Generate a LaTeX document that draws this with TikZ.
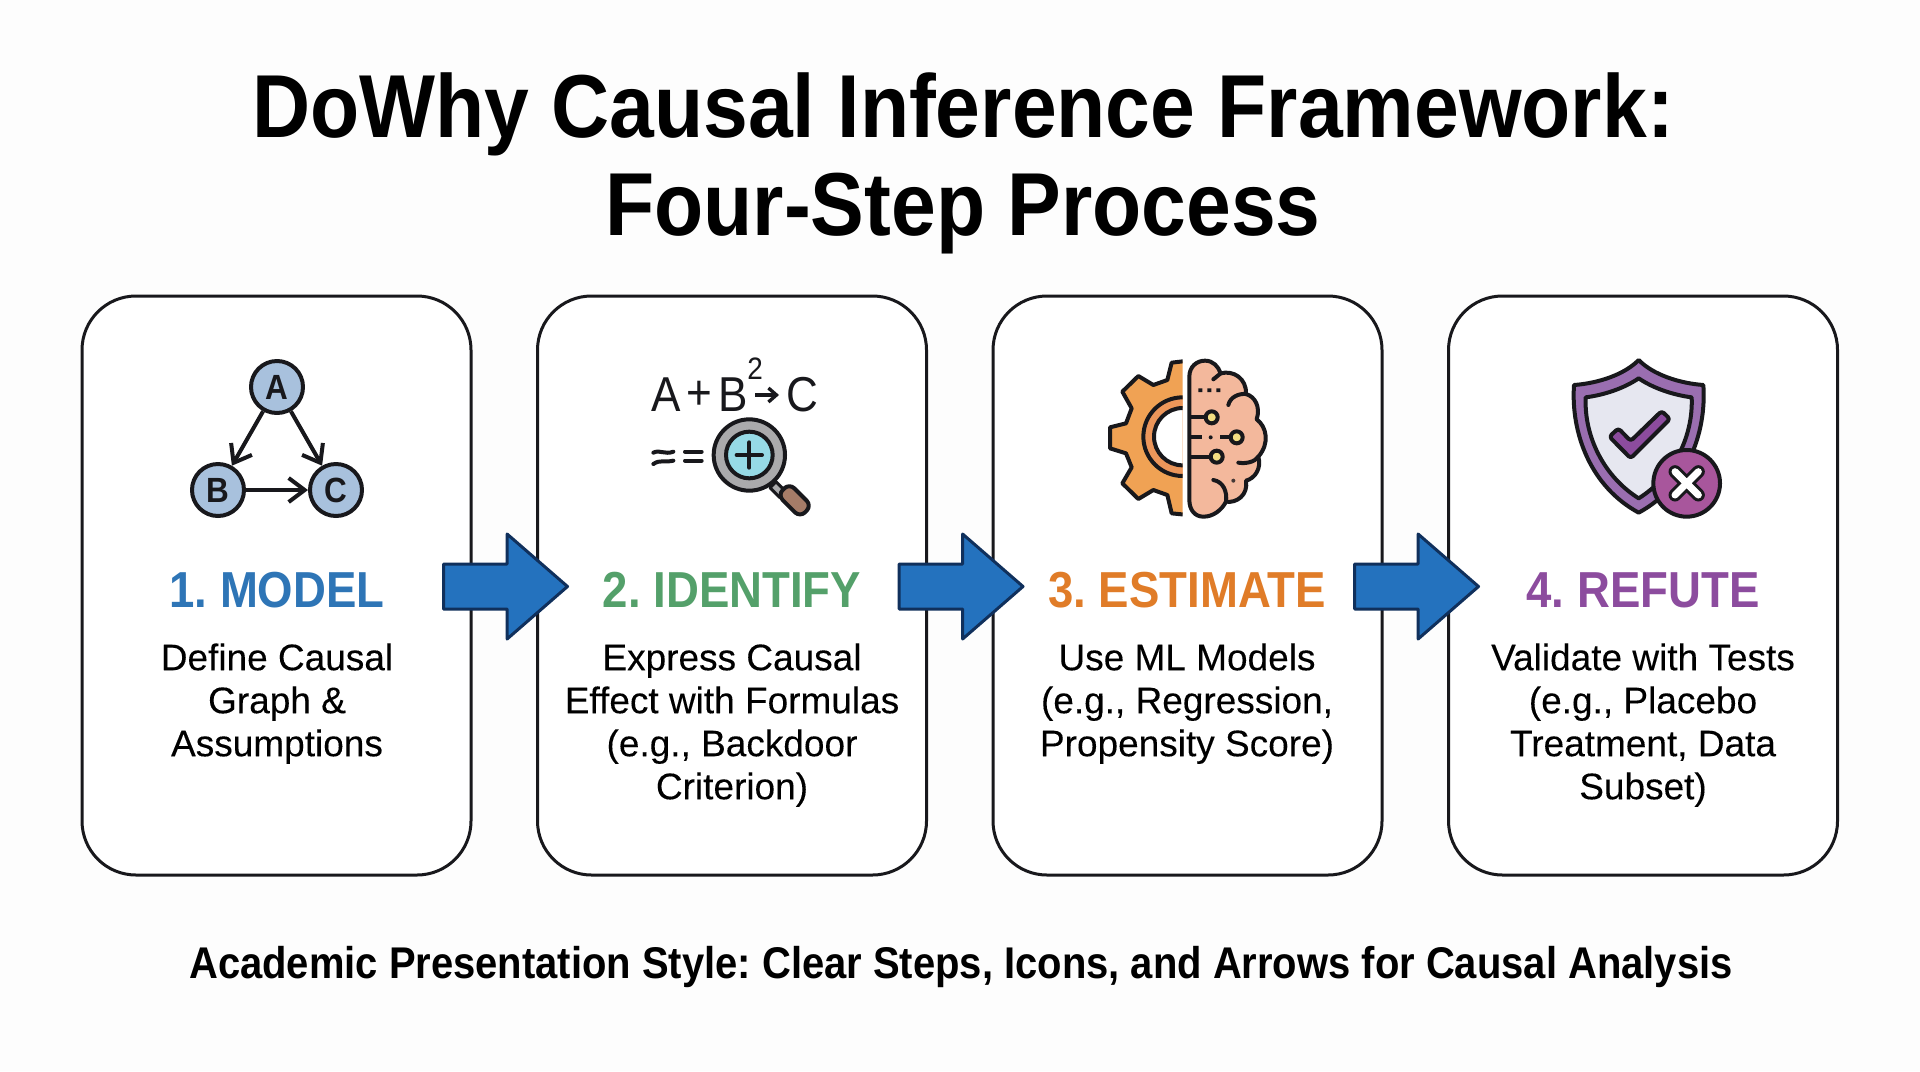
\documentclass[tikz,border=0pt]{standalone}
\usepackage{fontspec}
\setmainfont{Liberation Sans}
\newfontfamily\narrowfont[FakeStretch=0.9,BoldFont={Liberation Sans Bold}]{Liberation Sans}
\newfontfamily\bodyfont[FakeBold=0.15]{Liberation Sans}
\usetikzlibrary{arrows.meta,shapes.arrows,calc}
\definecolor{line_dark}{RGB}{24,24,28}
\definecolor{page_white}{RGB}{253,253,253}
\definecolor{edge_blue}{RGB}{16,48,92}
\definecolor{node_blue}{RGB}{36,114,190}
\definecolor{graph_blue}{RGB}{168,193,221}
\definecolor{head_blue}{RGB}{46,117,182}
\definecolor{head_green}{RGB}{84,160,106}
\definecolor{head_orange}{RGB}{224,124,40}
\definecolor{head_purple}{RGB}{140,76,158}
\definecolor{lens_blue}{RGB}{150,218,230}
\definecolor{ring_gray}{RGB}{170,170,172}
\definecolor{grip_brown}{RGB}{166,124,104}
\definecolor{gear_orange}{RGB}{240,162,84}
\definecolor{gear_inner}{RGB}{236,150,90}
\definecolor{brain_pink}{RGB}{243,184,156}
\definecolor{spark_yellow}{RGB}{243,222,130}
\definecolor{shield_purple}{RGB}{154,110,176}
\definecolor{shield_gray}{RGB}{230,231,240}
\definecolor{cross_purple}{RGB}{168,86,156}

\begin{document}
\frenchspacing
\begin{tikzpicture}[x=0.5pt,y=-0.5pt,line join=round]
    \tikzstyle{box}=[draw=line_dark, line width=1.5pt, rounded corners=27pt, minimum width=194.5pt, minimum height=289.5pt, fill=white]
    \tikzstyle{flow}=[draw=edge_blue, line width=1.5pt, fill=node_blue, single arrow, single arrow head extend=15pt, single arrow tip angle=82, text height=21pt, text depth=0pt, minimum height=62pt, inner sep=0pt, outer sep=0pt, anchor=tail]
    \tikzstyle{title}=[text=black, inner sep=0pt, align=center, font=\narrowfont\bfseries\fontsize{44.7}{49}\selectfont]
    \tikzstyle{head}=[inner sep=0pt, font=\narrowfont\bfseries\fontsize{25.3}{30}\selectfont]
    \tikzstyle{txt}=[text=black, inner sep=0pt, align=center, anchor=north, font=\bodyfont\fontsize{18.5}{21.5}\selectfont]
    \tikzstyle{vert}=[draw=line_dark, line width=2pt, circle, minimum size=26pt, inner sep=0pt, fill=graph_blue, text=line_dark, font=\narrowfont\bfseries\fontsize{17.5}{17.5}\selectfont]
    \tikzstyle{link}=[draw=line_dark, line width=2pt, -{Straight Barb[length=8pt,width=12pt,line width=2pt]}]
    \tikzstyle{sym}=[inner sep=0pt, text=line_dark, font=\narrowfont\fontsize{24.5}{25}\selectfont]
    \tikzstyle{ink}=[draw=line_dark, line width=2pt]

    \fill[page_white] (0,0) rectangle (1920,1071);
    \useasboundingbox (0,0) rectangle (1920,1071);

    % title
    \node[title] (t) at (963,163) {DoWhy Causal Inference Framework:\\Four-Step Process};

    % the four steps
    \node[box] (s1) at (276.5,585.5) {};
    \node[box] (s2) at (732,585.5)   {};
    \node[box] (s3) at (1187.5,585.5) {};
    \node[box] (s4) at (1643,585.5)  {};

    \node[flow] (a1) at ($(s1.east)+(-29,1)$) {};
    \node[flow] (a2) at ($(s2.east)+(-29,1)$) {};
    \node[flow] (a3) at ($(s3.east)+(-29,1)$) {};

    \node[head, text=head_blue]   (h1) at (277,590)  {1. MODEL};
    \node[head, text=head_green]  (h2) at (732,590)  {2. IDENTIFY};
    \node[head, text=head_orange] (h3) at (1187,590) {3. ESTIMATE};
    \node[head, text=head_purple] (h4) at (1643,590) {4. REFUTE};

    \node[txt] (d1) at (277,643)  {Define Causal\\Graph \&\\Assumptions};
    \node[txt] (d2) at (732,643)  {Express Causal\\Effect with Formulas\\(e.g., Backdoor\\Criterion)};
    \node[txt] (d3) at (1187,643) {Use ML Models\\(e.g., Regression,\\Propensity Score)};
    \node[txt] (d4) at (1643,643) {Validate with Tests\\(e.g., Placebo\\Treatment, Data\\Subset)};

    \node[inner sep=0pt, text=black, font=\narrowfont\bfseries\fontsize{22.2}{27}\selectfont] (c) at (961,967)
        {Academic Presentation Style: Clear Steps, Icons, and Arrows for Causal Analysis};

    % graph icon
    \node[vert] (va) at (277,387) {A};
    \node[vert] (vb) at (218,490) {B};
    \node[vert] (vc) at (336,490) {C};
    \path
     (va) edge[link] (vb)
     (va) edge[link] (vc)
     (vb) edge[link] (vc)
     ;

    % formula icon
    \node[sym] (fa) at (666,395) {A};
    \node[sym] (fp) at (699,395) {+};
    \node[sym] (fb) at (733,395) {B};
    \node[sym, font=\narrowfont\fontsize{15.5}{15.5}\selectfont] (fs) at (755,369) {2};
    \node[sym] (fc) at (802,395) {C};
    \coordinate (fl) at (755,395);
    \coordinate (fr) at (779,395);
    \draw[ink, line width=1.7pt, -{Straight Barb[length=4pt,width=7pt,line width=1.7pt]}] (fl) -- (fr);
    \begin{scope}[shift={(630,340)},scale=1/3]
      \draw[ink, line cap=round] (70,338) .. controls (90,328) and (105,345) .. (130,335);
      \draw[ink, line cap=round] (70,372) .. controls (90,358) and (105,368) .. (130,362);
      \draw[ink, line cap=round] (165,335) -- (215,335);
      \draw[ink, line cap=round] (165,362) -- (215,362);
      \draw[ink, fill=ring_gray, line width=1.5pt] (438,425) -- (468,455) -- (450,473) -- (420,443) -- cycle;
      \draw[ink, fill=grip_brown, rounded corners=3.5pt] (478,430) -- (545,497) -- (510,532) -- (443,465) -- cycle;
      \draw[ink, fill=ring_gray] (358,345) circle (107);
      \draw[ink, fill=lens_blue] (358,345) circle (70);
      \draw[ink, line cap=round] (320,345) -- (396,345);
      \draw[ink, line cap=round] (358,307) -- (358,383);
    \end{scope}

    % gear and brain icon
    \begin{scope}[shift={(1090,340)},scale=1/3]
      \begin{scope}
        \clip (0,0) rectangle (278,600);
        \draw[ink, fill=gear_orange] (295,62) -- (245,68) -- (232,120) -- (190,135) -- (145,108) -- (97,155)
          -- (125,205) -- (108,250) -- (60,262) -- (60,325) -- (108,340) -- (125,382) -- (97,430)
          -- (145,477) -- (190,450) -- (232,465) -- (245,520) -- (295,525) -- cycle;
        \draw[ink, fill=gear_inner] (295,172) -- (278,172) arc (-90:-270:118) -- (295,408) -- cycle;
        \draw[ink, fill=white] (295,204) -- (278,204) arc (-90:-270:86) -- (295,376) -- cycle;
      \end{scope}
      \draw[ink, fill=brain_pink] (298,110) .. controls (298,80) and (320,62) .. (345,62)
        .. controls (370,62) and (385,80) .. (392,100) .. controls (430,90) and (470,115) .. (468,162)
        .. controls (495,170) and (512,200) .. (500,238) .. controls (530,260) and (540,310) .. (505,350)
        .. controls (515,385) and (495,415) .. (468,422) .. controls (475,465) and (440,490) .. (408,485)
        .. controls (395,510) and (370,530) .. (340,530) .. controls (315,530) and (298,510) .. (298,480) -- cycle;
      \draw[ink, line cap=round] (370,118) -- (392,100);
      \draw[ink, line cap=round] (415,195) .. controls (420,172) and (445,160) .. (468,162);
      \draw[ink, line cap=round] (445,368) .. controls (470,372) and (495,365) .. (505,350);
      \draw[ink, line cap=round] (370,420) .. controls (400,425) and (412,455) .. (408,485);
      \fill[line_dark] (325,145) rectangle (337,156) (352,145) rectangle (364,156) (379,145) rectangle (391,156);
      \draw[ink] (298,232) -- (347,232);
      \draw[ink, fill=spark_yellow] (365,232) circle (18);
      \draw[ink] (298,292) -- (335,292);
      \fill[line_dark] (362,292) circle (6);
      \draw[ink] (390,292) -- (422,292);
      \draw[ink, fill=spark_yellow] (440,292) circle (18);
      \draw[ink] (298,350) -- (362,350);
      \draw[ink, fill=spark_yellow] (380,350) circle (18);
      \fill[line_dark!80!brain_pink] (430,422) circle (6);
    \end{scope}

    % shield icon
    \begin{scope}[shift={(1540,340)},scale=1/3]
      \draw[ink, fill=shield_purple] (296,60) .. controls (340,105) and (420,130) .. (490,135)
        .. controls (500,280) and (440,440) .. (296,518) .. controls (152,440) and (92,280) .. (102,135)
        .. controls (172,130) and (252,105) .. (296,60) -- cycle;
      \draw[ink, fill=shield_gray] (296,115) .. controls (340,145) and (400,165) .. (455,172)
        .. controls (460,290) and (400,410) .. (296,475) .. controls (192,410) and (132,290) .. (137,172)
        .. controls (192,165) and (252,145) .. (296,115) -- cycle;
      \draw[ink, fill=head_purple, rounded corners=1.5pt] (208,290) -- (235,265) -- (272,303) -- (365,213) -- (390,237) -- (272,355) -- cycle;
      \draw[ink, fill=cross_purple] (440,430) circle (100);
      \draw[line_dark, line width=6.5pt, line cap=round] (405,395) -- (475,465) (475,395) -- (405,465);
      \draw[white, line width=3.5pt, line cap=round] (405,395) -- (475,465) (475,395) -- (405,465);
    \end{scope}
\end{tikzpicture}
\end{document}
